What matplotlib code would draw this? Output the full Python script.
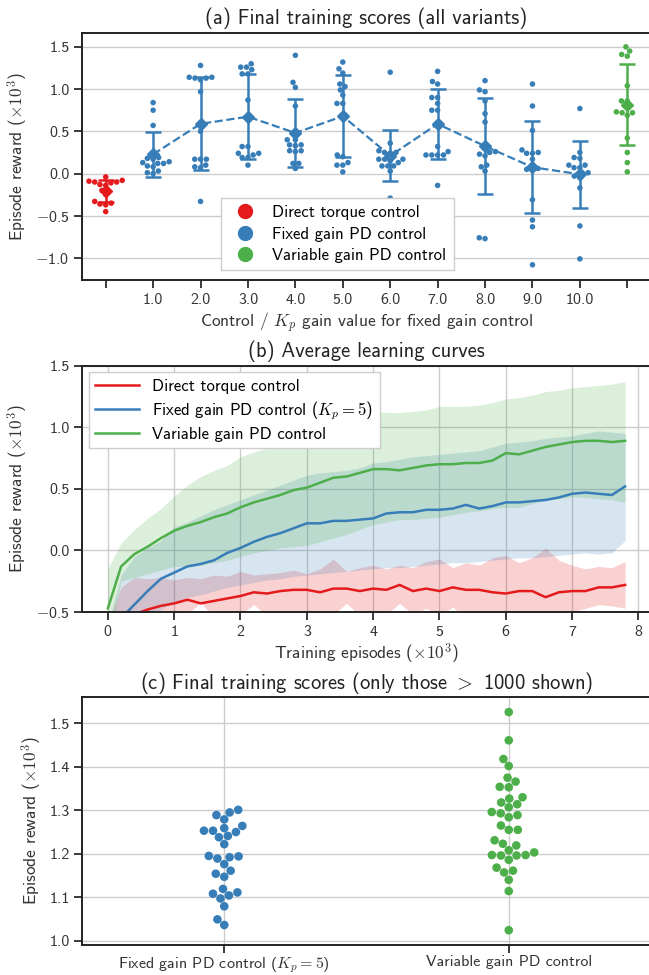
import numpy as np
import pandas as pd
import matplotlib
matplotlib.use('Agg')
import matplotlib.pyplot as plt
import seaborn as sns
from matplotlib.lines import Line2D
from matplotlib.ticker import FuncFormatter, MultipleLocator

# ---------------- data: panel (a) ----------------
cat_labels = ['', '1.0', '2.0', '3.0', '4.0', '5.0', '6.0', '7.0', '8.0', '9.0', '10.0', '']
direct_scores = [-0.04, -0.08, -0.09, -0.10, -0.10, -0.11, -0.13, -0.14, -0.20, -0.25,
                 -0.33, -0.35, -0.36, -0.37, -0.45]
fixed_scores = {
    1: [0.84, 0.75, 0.57, 0.19, 0.18, 0.17, 0.14, 0.13, 0.12, 0.12, 0.09, 0.08, 0.03, 0.01, 0.00],
    2: [1.28, 1.14, 1.13, 1.11, 1.14, 1.13, 0.97, 0.50, 0.17, 0.17, 0.17, 0.08, 0.07, 0.10, -0.33],
    3: [1.30, 1.26, 1.26, 1.23, 1.18, 1.18, 0.87, 0.32, 0.32, 0.24, 0.24, 0.22, 0.19, 0.19, 0.10],
    4: [1.40, 1.08, 1.02, 0.80, 0.40, 0.40, 0.34, 0.33, 0.34, 0.27, 0.26, 0.27, 0.12, 0.12, 0.06],
    5: [1.32, 1.24, 1.19, 1.06, 1.03, 0.99, 0.93, 0.83, 0.83, 0.22, 0.20, 0.13, 0.10, 0.10, 0.02],
    6: [1.20, 0.36, 0.27, 0.25, 0.24, 0.25, 0.17, 0.13, 0.15, 0.17, 0.17, 0.09, 0.09, 0.09, 0.03, -0.29],
    7: [1.21, 1.09, 1.06, 0.90, 0.90, 0.83, 0.75, 0.75, 0.32, 0.26, 0.22, 0.22, 0.22, 0.22, -0.14],
    8: [1.10, 0.99, 0.97, 0.86, 0.71, 0.61, 0.26, 0.23, 0.21, 0.25, 0.08, 0.10, 0.03, -0.76, -0.77],
    9: [1.06, 0.80, 0.51, 0.28, 0.24, 0.25, 0.24, 0.17, 0.05, 0.04, 0.06, -0.31, -0.55, -0.63, -1.08],
    10: [0.77, 0.25, 0.19, 0.18, 0.10, 0.07, 0.07, 0.10, 0.01, -0.03, 0.01, -0.05, -0.17, -0.62, -1.01],
}
variable_scores = [1.50, 1.45, 1.41, 1.39, 1.04, 0.86, 0.86, 0.73, 0.72, 0.72, 0.69, 0.42, 0.25, 0.13, 0.02]

# ---------------- data: panel (b) ----------------
episodes = [0.0, 0.2, 0.4, 0.6, 0.8, 1.0, 1.2, 1.4, 1.6, 1.8, 2.0, 2.2, 2.4, 2.6, 2.8, 3.0,
            3.2, 3.4, 3.6, 3.8, 4.0, 4.2, 4.4, 4.6, 4.8, 5.0, 5.2, 5.4, 5.6, 5.8, 6.0, 6.2,
            6.4, 6.6, 6.8, 7.0, 7.2, 7.4, 7.6, 7.8]
direct_mean = [-0.72, -0.62, -0.52, -0.48, -0.45, -0.43, -0.40, -0.43, -0.41, -0.39, -0.37, -0.34,
               -0.35, -0.33, -0.32, -0.32, -0.34, -0.31, -0.31, -0.33, -0.31, -0.32, -0.28, -0.33,
               -0.31, -0.33, -0.30, -0.32, -0.32, -0.34, -0.35, -0.33, -0.33, -0.38, -0.34, -0.33,
               -0.33, -0.30, -0.30, -0.28]
direct_hi = [-0.60, -0.30, -0.22, -0.23, -0.22, -0.24, -0.22, -0.23, -0.20, -0.21, -0.17, -0.20,
             -0.19, -0.18, -0.16, -0.19, -0.15, -0.07, -0.17, -0.14, -0.12, -0.15, -0.12, -0.14,
             -0.09, -0.07, -0.14, -0.10, -0.12, -0.06, -0.04, -0.10, -0.06, 0.02, -0.08, -0.12,
             -0.15, -0.13, -0.14, -0.09]
direct_lo = [-0.90, -0.75, -0.65, -0.60, -0.58, -0.56, -0.52, -0.42, -0.55, -0.56, -0.52, -0.44,
             -0.53, -0.55, -0.52, -0.56, -0.54, -0.52, -0.43, -0.53, -0.54, -0.52, -0.43, -0.52,
             -0.47, -0.53, -0.46, -0.55, -0.52, -0.53, -0.55, -0.56, -0.53, -0.54, -0.52, -0.50,
             -0.47, -0.44, -0.45, -0.47]
fixed_mean = [-0.65, -0.55, -0.44, -0.33, -0.23, -0.18, -0.13, -0.11, -0.08, -0.02, 0.02, 0.07,
              0.11, 0.14, 0.18, 0.22, 0.22, 0.24, 0.24, 0.25, 0.26, 0.30, 0.31, 0.31, 0.33, 0.33,
              0.34, 0.37, 0.34, 0.36, 0.39, 0.39, 0.40, 0.41, 0.43, 0.46, 0.47, 0.46, 0.45, 0.52]
fixed_hi = [-0.60, -0.20, -0.05, 0.02, 0.08, 0.19, 0.23, 0.28, 0.33, 0.37, 0.41, 0.45, 0.49, 0.53,
            0.57, 0.61, 0.63, 0.64, 0.65, 0.67, 0.71, 0.72, 0.74, 0.76, 0.77, 0.78, 0.79, 0.80,
            0.81, 0.84, 0.87, 0.88, 0.89, 0.91, 0.92, 0.93, 0.95, 0.97, 0.96, 0.95]
fixed_lo = [-0.95, -0.85, -0.70, -0.55, -0.48, -0.42, -0.38, -0.36, -0.33, -0.30, -0.28, -0.26,
            -0.24, -0.23, -0.21, -0.20, -0.19, -0.18, -0.17, -0.16, -0.15, -0.14, -0.14, -0.13,
            -0.12, -0.11, -0.10, -0.10, -0.09, -0.08, -0.07, -0.06, -0.06, -0.05, -0.04, -0.03,
            -0.02, -0.03, -0.02, 0.08]
variable_mean = [-0.47, -0.13, -0.03, 0.03, 0.10, 0.16, 0.20, 0.23, 0.27, 0.30, 0.35, 0.39, 0.42,
                 0.45, 0.49, 0.51, 0.55, 0.59, 0.60, 0.63, 0.66, 0.66, 0.65, 0.67, 0.69, 0.70,
                 0.70, 0.71, 0.71, 0.73, 0.79, 0.78, 0.81, 0.84, 0.86, 0.88, 0.89, 0.89, 0.88, 0.89]
variable_hi = [-0.15, 0.06, 0.17, 0.26, 0.34, 0.44, 0.53, 0.60, 0.65, 0.69, 0.76, 0.80, 0.83, 0.88,
               0.93, 0.98, 1.02, 1.06, 1.08, 1.10, 1.13, 1.12, 1.12, 1.13, 1.14, 1.17, 1.17, 1.17,
               1.18, 1.20, 1.23, 1.24, 1.26, 1.29, 1.30, 1.32, 1.33, 1.34, 1.35, 1.37]
variable_lo = [-0.75, -0.25, -0.22, -0.19, -0.16, -0.13, -0.13, -0.12, -0.10, -0.08, -0.05, -0.02,
               0.00, 0.02, 0.03, 0.04, 0.07, 0.10, 0.13, 0.17, 0.21, 0.23, 0.25, 0.25, 0.26, 0.27,
               0.29, 0.31, 0.32, 0.34, 0.35, 0.35, 0.38, 0.41, 0.42, 0.435, 0.43, 0.42, 0.41, 0.39]

# ---------------- data: panel (c) ----------------
top_fixed = [1.301, 1.295, 1.289, 1.279, 1.264, 1.259, 1.253, 1.253, 1.250, 1.241, 1.238, 1.222,
             1.195, 1.194, 1.192, 1.189, 1.176, 1.161, 1.154, 1.147, 1.119, 1.111, 1.108, 1.104,
             1.097, 1.079, 1.049, 1.036]
top_variable = [1.526, 1.461, 1.418, 1.402, 1.375, 1.366, 1.354, 1.353, 1.330, 1.327, 1.318, 1.314,
                1.307, 1.296, 1.293, 1.289, 1.284, 1.265, 1.255, 1.255, 1.231, 1.223, 1.219, 1.208,
                1.203, 1.197, 1.196, 1.196, 1.197, 1.186, 1.168, 1.161, 1.157, 1.140, 1.114, 1.024]
top_labels = ['Fixed gain PD control ($K_p = 5$)', 'Variable gain PD control']

RED, BLUE, GREEN = '#e41a1c', '#377eb8', '#4daf4a'
DARK = '#222222'

plt.rcParams.update({
    'font.family': ['cmss10', 'DejaVu Sans'],
    'mathtext.fontset': 'cm',
    'axes.unicode_minus': False,
    'axes.edgecolor': DARK,
    'axes.linewidth': 1.4,
    'axes.labelcolor': '#333333',
    'axes.titlecolor': '#222222',
    'xtick.color': DARK, 'ytick.color': DARK,
    'xtick.labelcolor': '#333333', 'ytick.labelcolor': '#333333',
    'xtick.major.size': 5.5, 'ytick.major.size': 5.5,
    'xtick.major.width': 1.25, 'ytick.major.width': 1.25,
    'xtick.labelsize': 11.5, 'ytick.labelsize': 11.5,
    'axes.labelsize': 12.5, 'axes.titlesize': 14.8,
    'grid.color': '#cccccc', 'grid.linewidth': 1.0,
    'axes.axisbelow': True,
    'legend.fontsize': 12,
})


def minus_fmt(v, pos):
    s = f'{abs(v):.1f}'
    return ('$-$' + s) if v < -1e-9 else s


fig = plt.figure(figsize=(6.49, 9.75), dpi=100)
L, W = 82 / 649, (651 - 82) / 649
ax_a = fig.add_axes([L, 1 - 280 / 975, W, 247.5 / 975])
ax_b = fig.add_axes([L, 1 - 612 / 975, W, 246.3 / 975])
ax_c = fig.add_axes([L, 1 - 945 / 975, W, 247.7 / 975])

# ---------------- panel (a) ----------------
rows = []
for v in direct_scores:
    rows.append(('c0', v, 'direct'))
for k in range(1, 11):
    for v in fixed_scores[k]:
        rows.append((f'c{k}', v, 'fixed'))
for v in variable_scores:
    rows.append(('c11', v, 'variable'))
df_a = pd.DataFrame(rows, columns=['cat', 'val', 'grp'])
order_a = [f'c{k}' for k in range(12)]
sns.swarmplot(data=df_a, x='cat', y='val', hue='grp', order=order_a,
              palette={'direct': RED, 'fixed': BLUE, 'variable': GREEN},
              size=4.0, ax=ax_a, legend=False)

ekw = dict(marker='D', markersize=6, capsize=6, elinewidth=1.8, capthick=1.8, zorder=5)
s = pd.Series(direct_scores)
ax_a.errorbar([0], [s.mean()], yerr=[s.std()], color=RED, **ekw)
fx = list(range(1, 11))
fm = [pd.Series(fixed_scores[k]).mean() for k in fx]
fs = [pd.Series(fixed_scores[k]).std() for k in fx]
ax_a.errorbar(fx, fm, yerr=fs, color=BLUE, linestyle='--', linewidth=1.6, **ekw)
s = pd.Series(variable_scores)
ax_a.errorbar([11], [s.mean()], yerr=[s.std()], color=GREEN, **ekw)

ax_a.set_xlim(-0.5, 11.5)
ax_a.set_ylim(-1.26, 1.67)
ax_a.set_xticks(range(12))
ax_a.set_xticklabels(cat_labels)
ax_a.yaxis.set_major_locator(MultipleLocator(0.5))
ax_a.yaxis.set_major_formatter(FuncFormatter(minus_fmt))
ax_a.grid(axis='y')
ax_a.grid(axis='x', visible=False)
ax_a.set_xlabel('Control / $K_p$ gain value for fixed gain control', labelpad=3)
ax_a.set_ylabel('Episode reward ($\\times 10^3$)')
ax_a.set_title('(a) Final training scores (all variants)', pad=6)
handles = [Line2D([], [], marker='o', linestyle='none', markersize=10, color=c)
           for c in (RED, BLUE, GREEN)]
ax_a.legend(handles, ['Direct torque control', 'Fixed gain PD control', 'Variable gain PD control'],
            loc='lower center', bbox_to_anchor=(0.449, 0.005), frameon=True, fancybox=False,
            framealpha=1, edgecolor='#cccccc', handletextpad=0.6, borderpad=0.45,
            labelspacing=0.38)

# ---------------- panel (b) ----------------
for lo, hi, c in ((direct_lo, direct_hi, RED), (fixed_lo, fixed_hi, BLUE),
                  (variable_lo, variable_hi, GREEN)):
    ax_b.fill_between(episodes, lo, hi, color=c, alpha=0.2, linewidth=0)
ax_b.plot(episodes, direct_mean, color=RED, lw=1.8, label='Direct torque control')
ax_b.plot(episodes, fixed_mean, color=BLUE, lw=1.8, label='Fixed gain PD control ($K_p = 5$)')
ax_b.plot(episodes, variable_mean, color=GREEN, lw=1.8, label='Variable gain PD control')
ax_b.set_xlim(-0.39, 8.19)
ax_b.set_ylim(-0.5, 1.5)
ax_b.set_xticks(range(9))
ax_b.yaxis.set_major_locator(MultipleLocator(0.5))
ax_b.yaxis.set_major_formatter(FuncFormatter(minus_fmt))
ax_b.grid(True)
ax_b.set_xlabel('Training episodes ($\\times 10^3$)', labelpad=2)
ax_b.set_ylabel('Episode reward ($\\times 10^3$)')
ax_b.set_title('(b) Average learning curves', pad=6)
ax_b.legend(loc='upper left', frameon=True, fancybox=False, framealpha=1,
            edgecolor='#cccccc', handlelength=2.6, borderaxespad=0.4, labelspacing=0.3,
            borderpad=0.4)

# ---------------- panel (c) ----------------
rows = [(top_labels[0], v) for v in top_fixed] + [(top_labels[1], v) for v in top_variable]
df_c = pd.DataFrame(rows, columns=['cat', 'val'])
sns.swarmplot(data=df_c, x='cat', y='val', hue='cat', order=top_labels,
              palette={top_labels[0]: BLUE, top_labels[1]: GREEN}, size=6.2, ax=ax_c,
              legend=False)
ax_c.set_xlim(-0.5, 1.5)
ax_c.set_ylim(0.99, 1.56)
ax_c.yaxis.set_major_locator(MultipleLocator(0.1))
ax_c.yaxis.set_major_formatter(FuncFormatter(minus_fmt))
ax_c.grid(True)
ax_c.set_xlabel('')
ax_c.set_ylabel('Episode reward ($\\times 10^3$)')
ax_c.set_title('(c) Final training scores (only those $>$ 1000 shown)', pad=6)
ax_c.tick_params(axis='x', pad=2)

for ax in (ax_a, ax_b, ax_c):
    for sp in ax.spines.values():
        sp.set_visible(True)
        sp.set_color(DARK)
    ax.tick_params(top=False, right=False)

fig.savefig('out.png', dpi=100)
